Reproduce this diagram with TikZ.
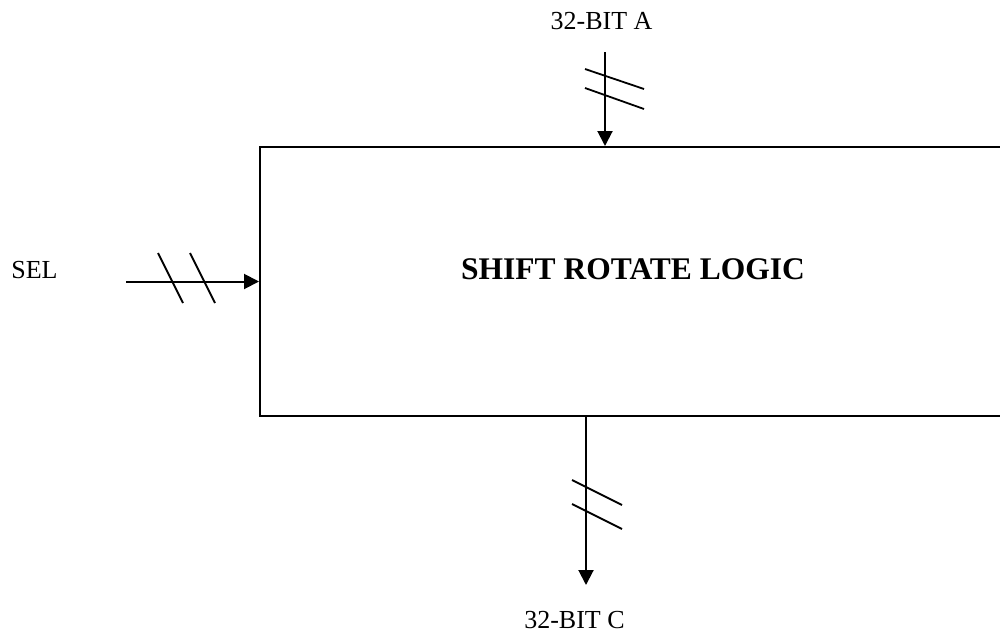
\documentclass[tikz,border=0pt]{standalone}
\usepackage{fontspec}
\setmainfont{Liberation Serif}
\usetikzlibrary{arrows.meta}

\begin{document}
\begin{tikzpicture}[x=1pt, y=-1pt, line width=2.0pt, line cap=butt, line join=miter,
  bus/.style={-{Triangle[length=15pt,width=15pt]}, line width=2.0pt},
  slash/.style={line width=1.8pt},
  lbl/.style={anchor=center, inner sep=0pt, font=\fontsize{26}{31}\selectfont}]

  %% ════ block (right edge runs off the page) ════
  \node[draw, line width=2.0pt, minimum width=746pt, minimum height=269pt, inner sep=0pt]
    (srl) at (633.0,281.5) {};
  \node[anchor=center, inner sep=0pt, font=\fontsize{31.5}{38}\selectfont\bfseries]
    (title) at (633.0,269.0) {SHIFT ROTATE LOGIC};

  %% ════ labels ════
  \node[lbl] (lblA)   at (601.5,21.0)  {32-BIT A};
  \node[lbl] (lblSel) at (34.5,270.0)  {SEL};
  \node[lbl] (lblC)   at (574.5,620.0) {32-BIT C};

  %% ════ bus ends ════
  \coordinate (aIn)   at (605.0,52.0);
  \coordinate (selIn) at (126.0,281.5);
  \coordinate (cOut)  at (586.0,585.0);

  %% ════ buses ════
  \draw[bus] (aIn) -- (aIn |- srl.north);
  \draw[bus] (selIn) -- (srl.west);
  \draw[bus] (srl.south -| cOut) -- (cOut);

  %% ════ bus slashes ════
  \draw[slash] (585.0,69.0) -- (644.0,89.0);
  \draw[slash] (585.0,88.0) -- (644.0,109.0);
  \draw[slash] (158.0,253.0) -- (183.0,303.0);
  \draw[slash] (190.0,253.0) -- (215.0,303.0);
  \draw[slash] (572.0,480.0) -- (622.0,505.0);
  \draw[slash] (572.0,504.0) -- (622.0,529.0);

  % page size fixed to the reference
  \pgfresetboundingbox
  \path[use as bounding box] (0,0) rectangle (1000,637);
\end{tikzpicture}
\end{document}
